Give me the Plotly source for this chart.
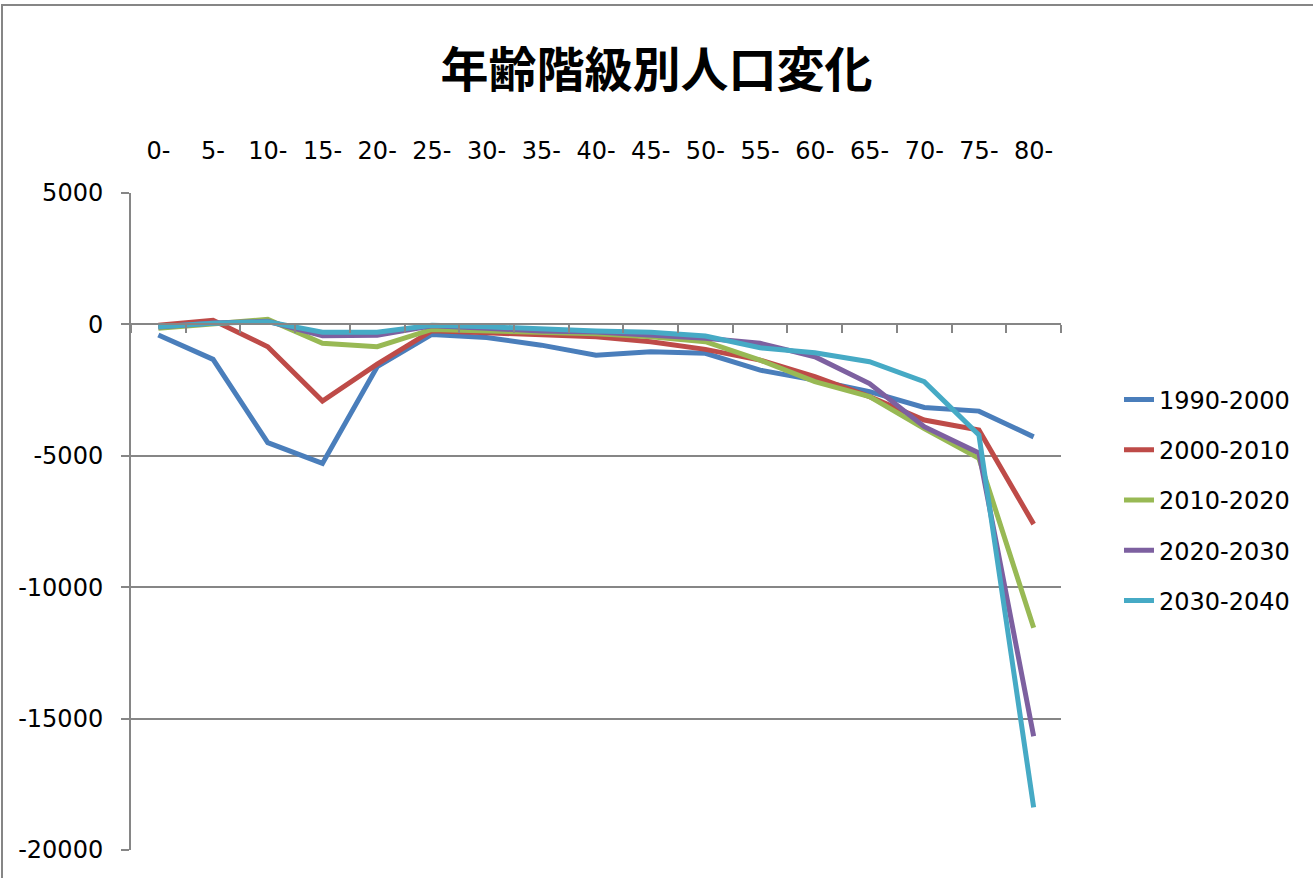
import plotly.graph_objects as go

categories = ["0-", "5-", "10-", "15-", "20-", "25-", "30-", "35-", "40-",
              "45-", "50-", "55-", "60-", "65-", "70-", "75-", "80-"]

s_1990_2000 = [-400, -1330, -4500, -5290, -1610, -380, -495, -790, -1170,
               -1040, -1100, -1740, -2120, -2560, -3160, -3300, -4280]
s_2000_2010 = [-30, 160, -850, -2920, -1510, -240, -320, -400, -470,
               -660, -950, -1360, -1990, -2750, -3640, -4020, -7600]
s_2010_2020 = [-150, 40, 190, -720, -850, -190, -250, -330, -360,
               -470, -660, -1360, -2180, -2750, -3960, -5100, -11540]
s_2020_2030 = [-100, 50, 120, -430, -410, -50, -150, -250, -290,
               -410, -530, -720, -1230, -2250, -3890, -4890, -15670]
s_2030_2040 = [-90, 40, 100, -300, -300, -30, -90, -180, -250,
               -300, -440, -890, -1080, -1420, -2180, -4210, -18380]

series_names = ["1990-2000", "2000-2010", "2010-2020", "2020-2030", "2030-2040"]
series_values = [s_1990_2000, s_2000_2010, s_2010_2020, s_2020_2030, s_2030_2040]
colors = ["#4A7EBB", "#BE4B48", "#98B954", "#7D60A0", "#46AAC5"]

y_ticks = [5000, 0, -5000, -10000, -15000, -20000]

W, H = 1313, 878
L, R, T, B = 131, 252, 193, 28
PW, PH = W - L - R, H - T - B

def px_x(px):
    return (px - L) / PW

def px_y(py):
    return (H - B - py) / PH

fig = go.Figure()

for name, vals, col in zip(series_names, series_values, colors):
    fig.add_trace(go.Scatter(
        x=categories, y=vals, name=name, mode="lines",
        line=dict(color=col, width=5, shape="linear"),
        legendgroup=name,
    ))

# invisible trace to carry the top category labels
fig.add_trace(go.Scatter(
    x=categories, y=[None] * len(categories), xaxis="x2", yaxis="y",
    showlegend=False, hoverinfo="skip", mode="lines",
))

ymin, ymax = -20000, 5000
zero_pos = (0 - ymin) / (ymax - ymin)

fig.update_layout(
    width=W, height=H,
    margin=dict(l=L, r=R, t=T, b=B),
    paper_bgcolor="white", plot_bgcolor="white",
    font=dict(family="DejaVu Sans", size=24, color="#000000"),
    title=dict(
        text="<b>年齢階級別人口変化</b>",
        font=dict(family="Noto Sans CJK JP", size=48, color="#000000"),
        x=0.5, xref="container", xanchor="center",
        y=1 - 70 / H, yref="container", yanchor="middle",
    ),
    xaxis=dict(
        type="category", categoryorder="array", categoryarray=categories,
        range=[-0.5, len(categories) - 0.5],
        anchor="free", position=zero_pos, side="bottom",
        showline=True, linecolor="#868686", linewidth=2,
        ticks="outside", ticklen=8, tickwidth=2, tickcolor="#868686",
        tickson="boundaries",
        showticklabels=False, showgrid=False, zeroline=False,
    ),
    xaxis2=dict(
        type="category", categoryorder="array", categoryarray=categories,
        range=[-0.5, len(categories) - 0.5],
        overlaying="x", anchor="y", side="top",
        showline=False, ticks="", showgrid=False, zeroline=False,
        tickfont=dict(family="DejaVu Sans", size=24, color="#000000"),
        ticklabelstandoff=28,
    ),
    yaxis=dict(
        range=[ymin, ymax], tickvals=y_ticks, ticktext=[str(v) for v in y_ticks],
        showgrid=True, gridcolor="#868686", gridwidth=2,
        showline=True, linecolor="#868686", linewidth=2,
        ticks="outside", ticklen=8, tickwidth=2, tickcolor="#868686",
        zeroline=False,
        tickfont=dict(family="DejaVu Sans", size=24, color="#000000"),
        ticklabelstandoff=13,
    ),
    legend=dict(
        x=px_x(1119), xanchor="left",
        y=px_y(500), yanchor="middle",
        font=dict(family="DejaVu Sans", size=24, color="#000000"),
        traceorder="grouped", tracegroupgap=16,
        bgcolor="rgba(0,0,0,0)",
    ),
    showlegend=True,
    shapes=[dict(
        type="rect", xref="paper", yref="paper",
        x0=px_x(2), x1=px_x(1325), y0=px_y(890), y1=px_y(5),
        line=dict(color="#868686", width=2), fillcolor="rgba(0,0,0,0)",
        layer="below",
    )],
)

fig.write_html("out.html", config={"displayModeBar": False},
               post_script="document.body.style.margin='0';")
